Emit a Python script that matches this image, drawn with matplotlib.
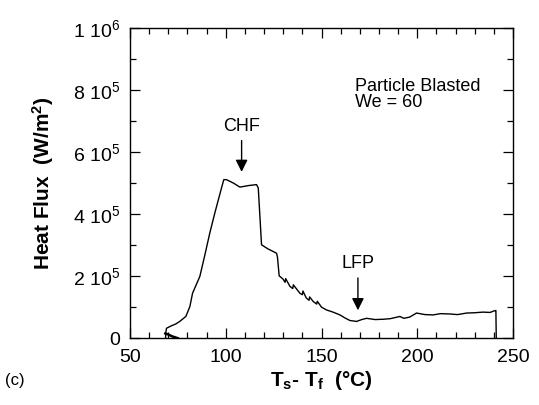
import matplotlib

matplotlib.use("Agg")

import matplotlib.pyplot as plt
from matplotlib.ticker import FixedLocator, FixedFormatter, MultipleLocator

plt.rcParams["font.family"] = ["Liberation Sans", "DejaVu Sans"]
plt.rcParams["mathtext.fontset"] = "custom"
plt.rcParams["mathtext.rm"] = "Liberation Sans"
plt.rcParams["mathtext.bf"] = "Liberation Sans:bold"
plt.rcParams["mathtext.default"] = "regular"

# main boiling curve (wall superheat vs heat flux)
superheat = [68.6, 68.8, 69.1, 71.7, 74.0, 76.0, 79.2, 81.3, 82.7, 86.5, 89.0, 91.7,
             94.3, 97.8, 99.0, 100.4, 104.0, 107.4, 112.0, 116.1, 117.0, 118.7,
             122.0, 126.5, 127.0, 127.9, 130.0, 131.0, 131.3, 133.5, 135.0, 135.3,
             138.7, 140.0, 140.3, 142.0, 143.5, 143.8, 145.7, 147.5, 147.8, 150.0,
             152.6, 156.0, 159.6, 162.0, 164.8, 168.3, 171.0, 173.5, 178.0, 182.2,
             186.0, 190.9, 193.0, 196.0, 199.6, 204.0, 208.3, 212.0, 217.0, 221.0,
             225.7, 230.0, 234.3, 238.0, 240.5, 241.0, 241.2]
heat_flux = [0, 20000, 32000, 40000, 46000, 54000, 70000, 102000, 145000, 199000,
             265000, 339000, 403000, 484000, 511000, 511000, 500000, 487000, 492000,
             495000, 484000, 301000, 288000, 274000, 262000, 201000, 190000, 180000,
             192000, 167000, 160000, 172000, 145000, 140000, 152000, 130000, 122000,
             133000, 118000, 110000, 119000, 100000, 91000, 84000, 75000, 66000,
             57000, 54000, 60000, 64000, 60000, 61000, 63000, 70000, 64000, 68000,
             81000, 76000, 75000, 79000, 78000, 76000, 81000, 82000, 84000, 83000,
             89000, 89000, 0]

# small trace near zero at the start of the run
start_superheat = [68.5, 70.0, 72.0, 75.0]
start_flux = [15000, 12000, 6000, 0]

x_ticks = [50, 100, 150, 200, 250]
y_ticks = [0, 200000, 400000, 600000, 800000, 1000000]
y_tick_labels = ["0", "2 10$^5$", "4 10$^5$", "6 10$^5$", "8 10$^5$", "1 10$^6$"]

fig = plt.figure(figsize=(5.39, 4.05), dpi=100)
ax = fig.add_axes([0.241, 0.165, 0.711, 0.766])

ax.plot(superheat, heat_flux, color="black", lw=1.0)
ax.plot(start_superheat, start_flux, color="black", lw=1.8)

ax.set_xlim(50, 250)
ax.set_ylim(0, 1000000)
ax.xaxis.set_major_locator(FixedLocator(x_ticks))
ax.xaxis.set_minor_locator(MultipleLocator(10))
ax.yaxis.set_major_locator(FixedLocator(y_ticks))
ax.yaxis.set_major_formatter(FixedFormatter(y_tick_labels))
ax.yaxis.set_minor_locator(MultipleLocator(100000))
ax.tick_params(which="both", direction="in", top=True, right=True, width=0.9)
ax.tick_params(which="major", length=7)
ax.tick_params(which="minor", length=4)
ax.tick_params(axis="x", labelsize=14, pad=8)
ax.tick_params(axis="y", labelsize=14, pad=7)
for lbl in ax.get_yticklabels()[:1]:
    lbl.set_y(0.01)
for s in ax.spines.values():
    s.set_linewidth(1.0)

ax.set_xlabel("T$_s$- T$_f$  (°C)", fontsize=15, fontweight="bold", labelpad=2)
ax.set_ylabel("Heat Flux  (W/m$^2$)", fontsize=15, fontweight="bold", labelpad=12)

ax.text(167.5, 840000, "Particle Blasted\nWe = 60", fontsize=13, va="top",
        linespacing=0.95)
ax.annotate("CHF", xy=(108.3, 536000), xytext=(108.3, 655000), ha="center",
            va="bottom", fontsize=13,
            arrowprops=dict(arrowstyle="-|>", color="black", lw=1.0,
                            mutation_scale=18, shrinkA=2, shrinkB=0))
ax.annotate("LFP", xy=(169, 90000), xytext=(169, 212000), ha="center",
            va="bottom", fontsize=13,
            arrowprops=dict(arrowstyle="-|>", color="black", lw=1.0,
                            mutation_scale=18, shrinkA=2, shrinkB=0))

fig.text(0.01, 0.05, "(c)", fontsize=12)

fig.savefig("out.png", dpi=100)
